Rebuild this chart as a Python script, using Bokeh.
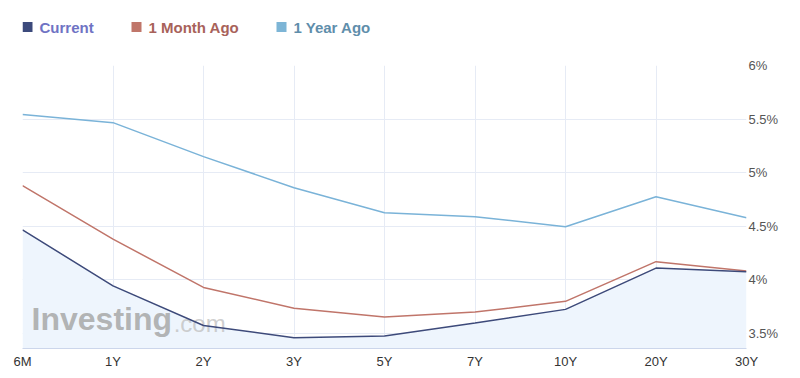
from bokeh.plotting import figure
from bokeh.layouts import column
from bokeh.models import Range1d, LinearAxis, FixedTicker, ColumnDataSource
from bokeh.core.properties import value
from bokeh.embed import file_html
from bokeh.resources import INLINE

categories = ["6M", "1Y", "2Y", "3Y", "5Y", "7Y", "10Y", "20Y", "30Y"]
current = [4.467, 3.944, 3.575, 3.46, 3.477, 3.597, 3.725, 4.11, 4.075]
month_ago = [4.879, 4.38, 3.93, 3.735, 3.654, 3.70, 3.80, 4.17, 4.084]
year_ago = [5.542, 5.467, 5.15, 4.86, 4.626, 4.59, 4.495, 4.776, 4.58]
y_ticks = [3.5, 4.0, 4.5, 5.0, 5.5, 6.0]
y_labels = ["3.5%", "4%", "4.5%", "5%", "5.5%", "6%"]
y_min, y_max = 3.36, 6.0

series_names = ["Current", "1 Month Ago", "1 Year Ago"]
series_colors = ["#3d4a7a", "#c0756a", "#7ab3d8"]
legend_swatch_colors = ["#3c4a7c", "#c0766a", "#7db5d6"]
legend_text_colors = ["#6f73c4", "#a8625a", "#5f8eab"]

FONT = "Liberation Sans"
LEFT, RIGHT = 22, 54
W, H = 800, 378

# ---------- legend strip (data units = page pixels) ----------
LEG_H = 55
leg = figure(width=W, height=LEG_H, output_backend="svg", toolbar_location=None,
             x_range=Range1d(LEFT, W - RIGHT), y_range=Range1d(0, LEG_H),
             min_border_left=LEFT, min_border_right=RIGHT,
             min_border_top=0, min_border_bottom=0, outline_line_color=None)
leg.axis.visible = False
leg.grid.visible = False
sw_x = [27, 136, 281]          # swatch centres (px)
tx_x = [39, 148, 293]          # label starts (px)
row_y = LEG_H - 26.5
leg_src = ColumnDataSource(dict(sx=sw_x, tx=tx_x, y=[row_y] * 3,
                                name=series_names, sc=legend_swatch_colors,
                                tc=legend_text_colors))
leg.rect(x="sx", y="y", width=10, height=10, source=leg_src,
         fill_color="sc", line_color=None)
leg.text(x="tx", y="y", text="name", source=leg_src, text_color="tc",
         text_font=value(FONT), text_font_style="bold", text_font_size="15px",
         text_baseline="middle", text_align="left")

# ---------- main chart ----------
xs = list(range(len(categories)))
src = ColumnDataSource(dict(x=xs, cur=current, mon=month_ago, yr=year_ago,
                            base=[y_min] * len(xs)))

p = figure(width=W, height=H - LEG_H, output_backend="svg",
           toolbar_location=None,
           x_range=Range1d(0, len(categories) - 1), y_range=Range1d(y_min, y_max),
           y_axis_location=None, min_border_left=LEFT, min_border_right=RIGHT,
           min_border_top=65 - LEG_H, min_border_bottom=30)
p.outline_line_color = None

p.xaxis.ticker = FixedTicker(ticks=xs)
p.xaxis.major_label_overrides = {i: c for i, c in enumerate(categories)}
p.xaxis.axis_line_color = "#ccd6eb"
p.xaxis.major_tick_line_color = None
p.xaxis.minor_tick_line_color = None
p.xaxis.major_label_text_font = FONT
p.xaxis.major_label_text_font_size = "13px"
p.xaxis.major_label_text_color = "#333333"
p.xaxis.major_label_standoff = -1

ya = LinearAxis(ticker=FixedTicker(ticks=y_ticks))
ya.major_label_overrides = {t: l for t, l in zip(y_ticks, y_labels)}
ya.axis_line_color = None
ya.major_tick_line_color = None
ya.minor_tick_line_color = None
ya.major_label_text_font = FONT
ya.major_label_text_font_size = "13px"
ya.major_label_text_color = "#555555"
ya.major_label_standoff = -4
p.add_layout(ya, "right")

p.xgrid.grid_line_color = "#e6ebf5"
p.ygrid.grid_line_color = "#e6ebf5"
p.ygrid.ticker = FixedTicker(ticks=y_ticks)
p.xgrid.ticker = FixedTicker(ticks=xs)

p.varea(x="x", y1="base", y2="cur", source=src, fill_color="#eef5fd")

# watermark (between fill and lines)
wm = ColumnDataSource(dict(x=[0.10], y=[3.47], t=["Investing"]))
p.text(x="x", y="y", text="t", source=wm, text_font=value(FONT),
       text_font_style="bold", text_font_size="32px", text_color="#a2a2a2",
       text_alpha=0.8)
wm2 = ColumnDataSource(dict(x=[1.67], y=[3.47], t=[".com"]))
p.text(x="x", y="y", text="t", source=wm2, text_font=value(FONT),
       text_font_size="24px", text_color="#c2c2c2", text_alpha=0.8)

for col, c in zip(["yr", "mon", "cur"], series_colors[::-1]):
    p.line(x="x", y=col, source=src, line_color=c, line_width=1.5)

open("out.html", "w").write(file_html(column(leg, p, spacing=0), INLINE))
